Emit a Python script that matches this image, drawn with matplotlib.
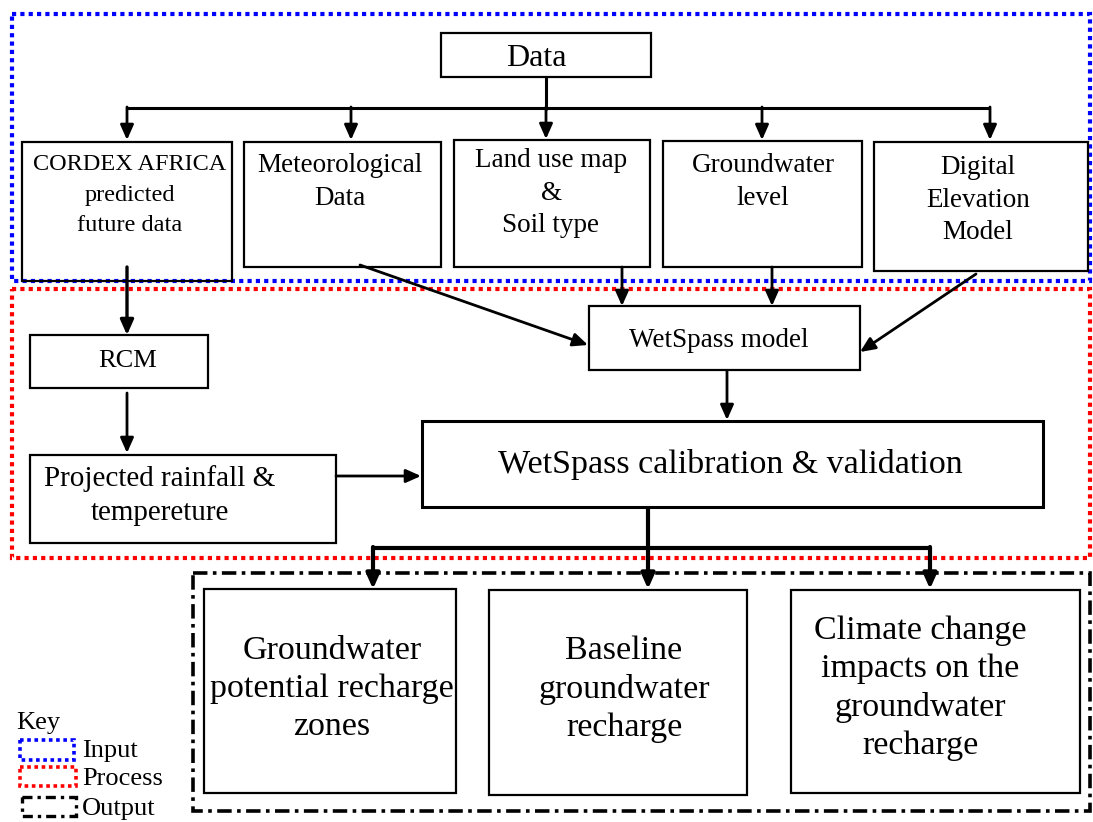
import matplotlib
matplotlib.use("Agg")
import matplotlib.pyplot as plt
from matplotlib.patches import Rectangle

plt.rcParams['font.family'] = ['Liberation Serif', 'DejaVu Serif']

# ---- text content ----
top_label = "Data"
input_labels = ["CORDEX AFRICA\npredicted\nfuture data", "Meteorological\nData",
                "Land use map\n&\nSoil type", "Groundwater\nlevel",
                "Digital\nElevation\nModel"]
process_labels = ["RCM", "Projected rainfall &\ntempereture", "WetSpass model",
                  "WetSpass calibration & validation"]
output_labels = ["Groundwater\npotential recharge\nzones",
                 "Baseline\ngroundwater\nrecharge",
                 "Climate change\nimpacts on the\ngroundwater\nrecharge"]
key_title = "Key"
key_labels = ["Input", "Process", "Output"]

W, H = 1093, 822
fig = plt.figure(figsize=(W / 100, H / 100), dpi=100)
ax = fig.add_axes([0, 0, 1, 1])
ax.set_xlim(0, W)
ax.set_ylim(H, 0)
ax.axis('off')

def box(x0, y0, x1, y1, lw=1.6, **kw):
    ax.add_patch(Rectangle((x0, y0), x1 - x0, y1 - y0, fill=False,
                           edgecolor='black', linewidth=lw, **kw))

def group(x0, y0, x1, y1, color, ls, lw=3.0):
    ax.add_patch(Rectangle((x0, y0), x1 - x0, y1 - y0, fill=False,
                           edgecolor=color, linewidth=lw, linestyle=ls))

def arrow(x0, y0, x1, y1, lw=2.0):
    ax.annotate('', xy=(x1, y1), xytext=(x0, y0),
                arrowprops=dict(arrowstyle='-|>,head_length=0.9,head_width=0.4',
                                color='black', lw=lw, shrinkA=0, shrinkB=0))

def line(xs, ys, lw=2.2):
    ax.plot(xs, ys, color='black', lw=lw, solid_capstyle='butt')

dotted = (0, (1, 1))
dashdot = (0, (4, 1.5, 1, 1.5))

# ---- group frames ----
group(12, 14, 1090, 281, 'blue', dotted)
group(12, 289, 1090, 558, 'red', dotted)
group(193, 573, 1090, 811, 'black', dashdot, lw=2.6)

# ---- Data box ----
box(441, 33, 651, 77)
ax.text(536, 58, top_label, ha='center', va='center', fontsize=23)

# ---- input boxes ----
inp_geo = [(22, 142, 232, 281), (244, 142, 441, 267), (454, 140, 650, 267),
           (663, 141, 862, 267), (874, 142, 1088, 271)]
inp_text_xy = [(130, 195), (340, 182), (551, 193), (763, 182), (978, 200)]
inp_fs = [17.5, 19.5, 19.5, 19.5, 19.5]
inp_ls = [1.6, 1.42, 1.42, 1.42, 1.42]
inp_arrow_x = [127, 351, 546, 762, 990]
for (x0, y0, x1, y1), lab, (tx, ty), fs, ls in zip(inp_geo, input_labels,
                                                  inp_text_xy, inp_fs, inp_ls):
    box(x0, y0, x1, y1)
    ax.text(tx, ty, lab, ha='center', va='center', fontsize=fs,
            linespacing=ls)

line([546, 546], [77, 110])
line([inp_arrow_x[0], inp_arrow_x[-1]], [108, 108])
for xa in inp_arrow_x:
    arrow(xa, 107, xa, 140 if xa != 546 else 139)

# ---- process boxes ----
box(30, 335, 208, 388)
ax.text(128, 361, process_labels[0], ha='center', va='center', fontsize=19)
box(30, 455, 336, 543)
ax.text(160, 496, process_labels[1], ha='center', va='center', fontsize=21,
        linespacing=1.4)
box(589, 306, 860, 370)
ax.text(719, 340, process_labels[2], ha='center', va='center', fontsize=19.5)
box(422, 421, 1043, 507, lw=2.2)
ax.text(730, 464, process_labels[3], ha='center', va='center', fontsize=24.5)

arrow(127, 267, 127, 335, lw=2.4)
arrow(127, 393, 127, 453)
arrow(336, 476, 421, 476)
arrow(360, 265, 588, 345)
arrow(622, 267, 622, 306)
arrow(772, 267, 772, 306)
arrow(976, 274, 860, 352)
arrow(727, 371, 727, 420)

# ---- output boxes ----
out_geo = [(204, 589, 456, 793), (489, 590, 747, 795), (791, 590, 1080, 793)]
out_text_xy = [(332, 689), (624, 689), (920, 688)]
out_arrow_x = [373, 648, 930]
for (x0, y0, x1, y1), lab, (tx, ty) in zip(out_geo, output_labels, out_text_xy):
    box(x0, y0, x1, y1)
    ax.text(tx, ty, lab, ha='center', va='center', fontsize=24.5,
            linespacing=1.32)

line([648, 648], [507, 549], lw=3.0)
line([out_arrow_x[0], out_arrow_x[-1]], [548, 548], lw=3.0)
for xa in out_arrow_x:
    arrow(xa, 547, xa, 589, lw=3.0)

# ---- key ----
ax.text(16, 723, key_title, ha='left', va='center', fontsize=19)
group(20, 740, 74, 760, 'blue', dotted, lw=2.6)
group(20, 767, 76, 786, 'red', dotted, lw=2.6)
group(22, 797, 76, 816, 'black', (0, (3, 1.5, 1, 1.5)), lw=2.4)
for lab, yk in zip(key_labels, [751, 779, 809]):
    ax.text(82, yk, lab, ha='left', va='center', fontsize=19)

fig.savefig('out.png', dpi=100)
